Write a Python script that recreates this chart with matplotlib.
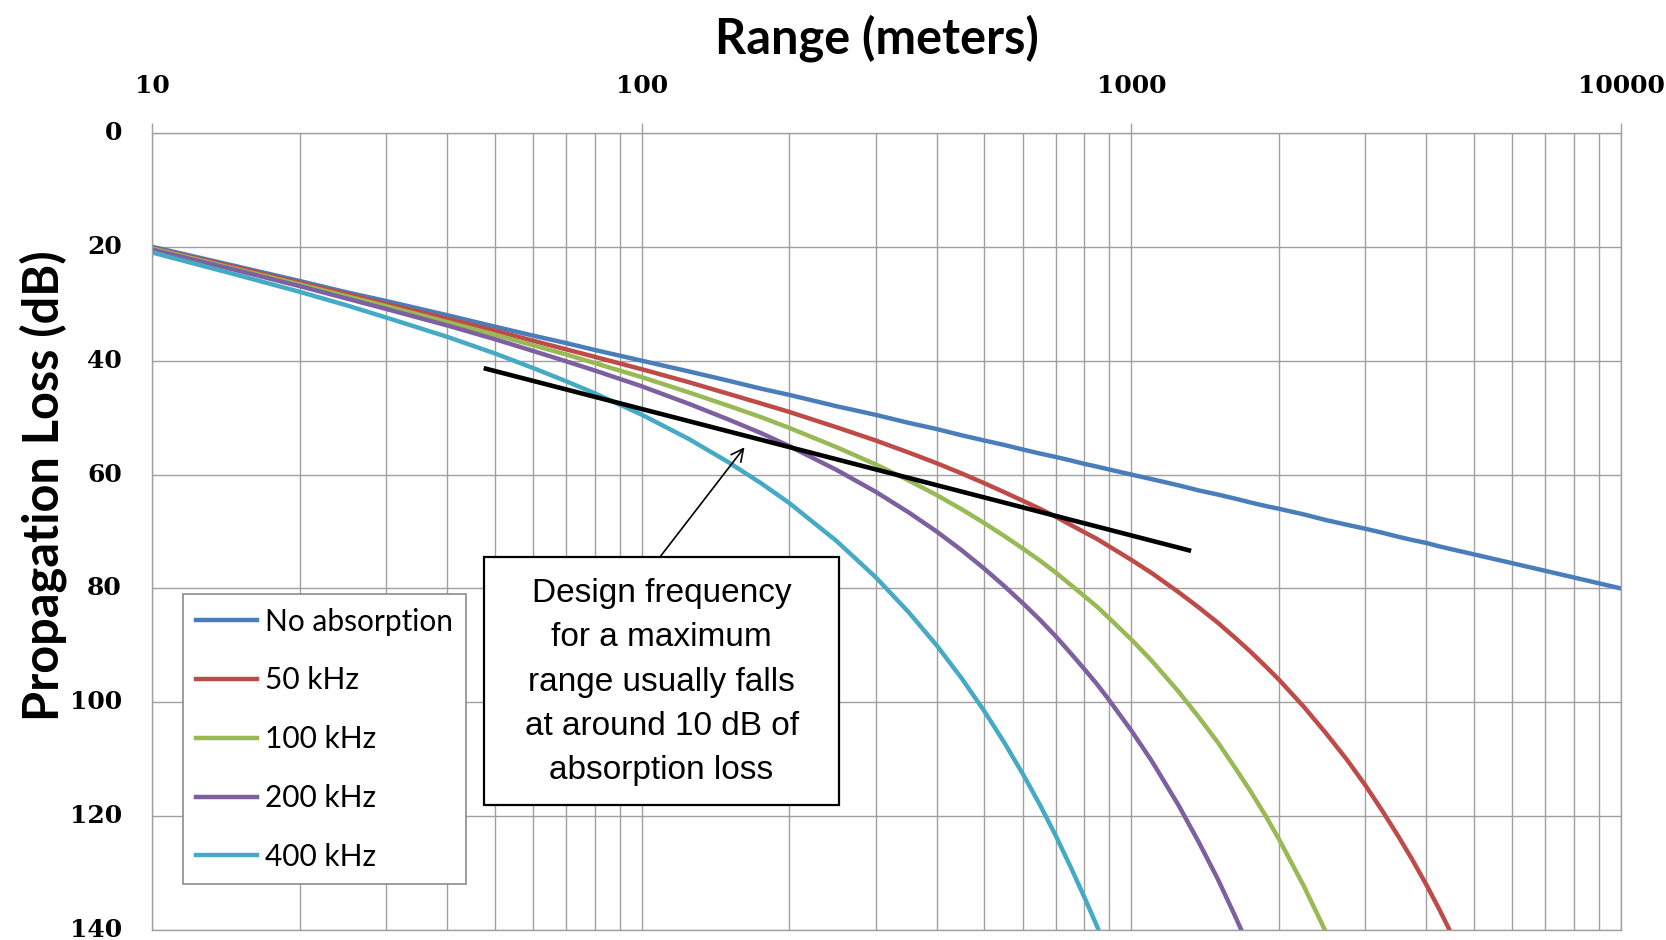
import matplotlib.pyplot as plt
from matplotlib.patches import Rectangle
from matplotlib.ticker import NullFormatter

# range in metres, shared by all curves (each curve stops once it runs past 140 dB)
range_m = [10, 15, 20, 25, 30, 40, 50, 60, 70, 80, 100, 125, 150, 175, 200, 250,
           300, 350, 400, 450, 500, 550, 600, 650, 700, 750, 800, 850, 900, 1000,
           1100, 1250, 1375, 1500, 1625, 1750, 1875, 2000, 2250, 2500, 2750, 3000,
           3250, 3500, 3750, 4000, 4250, 4500, 5000, 7000, 10000]

no_absorption = [20.0, 23.5, 26.0, 28.0, 29.5, 32.0, 34.0, 35.6, 36.9, 38.1, 40.0,
                 41.9, 43.5, 44.9, 46.0, 48.0, 49.5, 50.9, 52.0, 53.1, 54.0, 54.8,
                 55.6, 56.3, 56.9, 57.5, 58.1, 58.6, 59.1, 60.0, 60.8, 61.9, 62.8,
                 63.5, 64.2, 64.9, 65.5, 66.0, 67.0, 68.0, 68.8, 69.5, 70.2, 70.9,
                 71.5, 72.0, 72.6, 73.1, 74.0, 76.9, 80.0]
loss_50k = [20.2, 23.7, 26.3, 28.3, 30.0, 32.6, 34.7, 36.5, 38.0, 39.3, 41.5, 43.8,
            45.8, 47.5, 49.0, 51.7, 54.0, 56.1, 58.0, 59.8, 61.5, 63.1, 64.6, 66.0,
            67.4, 68.8, 70.1, 71.3, 72.6, 75.0, 77.3, 80.7, 83.4, 86.0, 88.6, 91.1,
            93.6, 96.0, 100.8, 105.5, 110.0, 114.5, 119.0, 123.4, 127.7, 132.0,
            136.3, 140.6]
loss_100k = [20.3, 24.0, 26.6, 28.7, 30.4, 33.2, 35.4, 37.3, 38.9, 40.4, 42.9, 45.6,
             47.9, 49.9, 51.8, 55.2, 58.2, 61.0, 63.6, 66.1, 68.5, 70.8, 73.0, 75.1,
             77.2, 79.3, 81.3, 83.2, 85.2, 89.0, 92.7, 98.2, 102.7, 107.0, 111.4,
             115.6, 119.8, 124.0, 132.3, 140.5]
loss_200k = [20.5, 24.2, 26.9, 29.1, 30.9, 33.8, 36.2, 38.3, 40.1, 41.7, 44.5, 47.6,
             50.3, 52.7, 55.0, 59.2, 63.0, 66.6, 70.0, 73.3, 76.5, 79.6, 82.6, 85.5,
             88.4, 91.3, 94.1, 96.8, 99.6, 105.0, 110.3, 118.2, 124.7, 131.0, 137.4,
             143.6]
loss_400k = [21.0, 25.0, 27.9, 30.3, 32.4, 35.8, 38.7, 41.3, 43.6, 45.7, 49.5, 53.8,
             57.8, 61.5, 65.0, 71.7, 78.0, 84.1, 90.0, 95.8, 101.5, 107.1, 112.6,
             118.0, 123.4, 128.8, 134.1, 139.3, 144.6]

series_names = ['No absorption', '50 kHz', '100 kHz', '200 kHz', '400 kHz']
series_colors = ['#4A7EBB', '#BE4B48', '#98B954', '#7D60A0', '#46AAC5']

range_ticks = [10, 100, 1000, 10000]
range_tick_labels = ['10', '100', '1000', '10000']
loss_ticks = [0, 20, 40, 60, 80, 100, 120, 140]

# hand-drawn "10 dB absorption" guide and its callout arrow
guide_range = [48, 1310]
guide_loss = [41.4, 73.3]
arrow_tip = (162, 55.2)
arrow_tail = (109, 74.4)
note = ('Design frequency\nfor a maximum\nrange usually falls\n'
        'at around 10 dB of\nabsorption loss')

fig = plt.figure(figsize=(16.66, 9.4), dpi=100)
ax = fig.add_axes([0.0915, 0.0106, 0.8815, 0.8479])

all_loss = [no_absorption, loss_50k, loss_100k, loss_200k, loss_400k]
for name, loss, color in zip(series_names, all_loss, series_colors):
    ax.plot(range_m[:len(loss)], loss, color=color, lw=3.2, label=name, zorder=2)

ax.set_xscale('log')
ax.set_xlim(10, 10000)
ax.set_ylim(140, 0)
ax.set_xticks(range_ticks)
ax.set_xticklabels(range_tick_labels)
ax.set_yticks(loss_ticks)
ax.xaxis.tick_top()
ax.xaxis.set_minor_formatter(NullFormatter())

grid_col = '#A0A0A0'
ax.tick_params(axis='x', which='major', direction='out', length=7, width=1.0,
               color=grid_col, pad=18, labelsize=18)
ax.tick_params(axis='x', which='minor', length=0)
ax.tick_params(axis='y', length=0, pad=22, labelsize=18)
for lbl in ax.get_xticklabels() + ax.get_yticklabels():
    lbl.set_fontfamily('DejaVu Serif')
    lbl.set_fontweight('bold')
for lbl in ax.get_yticklabels():
    lbl.set_verticalalignment('center')

ax.grid(True, which='both', axis='x', color=grid_col, lw=1.0)
ax.grid(True, which='major', axis='y', color=grid_col, lw=1.0)
ax.set_axisbelow(True)
for sp in ax.spines.values():
    sp.set_color(grid_col)
    sp.set_linewidth(1.0)

ax.plot(guide_range, guide_loss, color='black', lw=3.3, zorder=3)
ax.annotate('', xy=arrow_tip, xytext=arrow_tail,
            arrowprops=dict(arrowstyle='->', color='black', lw=1.2,
                            mutation_scale=22, shrinkA=0, shrinkB=0), zorder=4)

ax.add_patch(Rectangle((0.2257, 0.157), 0.242, 0.3114, transform=ax.transAxes,
                       facecolor='white', edgecolor='black', lw=1.6, zorder=4))
ax.text(0.3467, 0.311, note, transform=ax.transAxes, ha='center', va='center',
        family='Liberation Sans', fontsize=24, linespacing=1.55, zorder=5)

leg = ax.legend(loc='upper left', bbox_to_anchor=(0.0205, 0.4213), borderaxespad=0,
                fancybox=False, framealpha=1, edgecolor='#8C8C8C',
                prop={'family': 'Lato', 'size': 21.5}, handlelength=2.05,
                handletextpad=0.25, labelspacing=1.03, borderpad=0.45)
leg.get_frame().set_linewidth(1.2)
leg.set_zorder(5)

fig.text(877 / 1666, 1 - 38 / 940, 'Range (meters)', ha='center', va='center',
         family='Lato', weight='bold', fontsize=35)
fig.text(43 / 1666, 1 - 486 / 940, 'Propagation Loss (dB)', rotation=90,
         ha='center', va='center', family='Lato', weight='bold', fontsize=35)

fig.savefig('out.png', dpi=100)
